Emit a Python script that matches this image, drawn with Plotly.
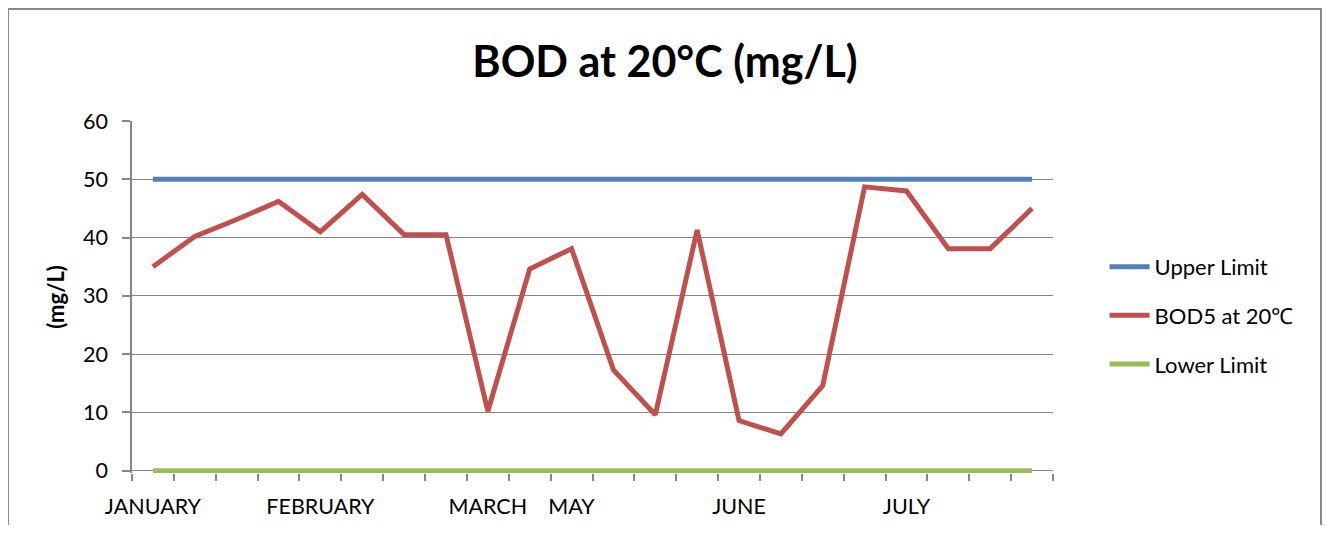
import plotly.graph_objects as go

# ---- data ----
labels = ["JANUARY", "", "", "", "FEBRUARY", "", "", "", "MARCH", "", "MAY",
          "", "", "", "JUNE", "", "", "", "JULY", "", "", ""]
bod5 = [35.0, 40.2, 43.1, 46.2, 41.0, 47.4, 40.5, 40.5, 10.2, 34.6, 38.1,
        17.3, 9.6, 41.3, 8.6, 6.3, 14.6, 48.7, 48.0, 38.1, 38.1, 45.0]
upper = [50, 50, 50, 50, 50, 50, 50, 50, 50, 50, 50,
         50, 50, 50, 50, 50, 50, 50, 50, 50, 50, 50]
lower = [0, 0, 0, 0, 0, 0, 0, 0, 0, 0, 0,
         0, 0, 0, 0, 0, 0, 0, 0, 0, 0, 0]
y_ticks = [0, 10, 20, 30, 40, 50, 60]

x = list(range(len(labels)))
label_pos = [i for i, t in enumerate(labels) if t]
label_txt = [labels[i] for i in label_pos]
boundaries = [i - 0.5 for i in range(len(labels) + 1)]

FONT = "Lato"
GRID = "#868686"

W, H = 1314, 517
ML, MR, MT, MB = 124, 269, 113, 52

fig = go.Figure()
fig.add_trace(go.Scatter(x=x, y=upper, mode="lines", name="Upper Limit",
                         line=dict(color="#4F81BD", width=5), legendgroup="a"))
fig.add_trace(go.Scatter(x=x, y=bod5, mode="lines", name="BOD5 at 20℃",
                         line=dict(color="#C0504D", width=5), legendgroup="b"))
fig.add_trace(go.Scatter(x=x, y=lower, mode="lines", name="Lower Limit",
                         line=dict(color="#9BBB59", width=5), legendgroup="c"))

fig.update_layout(
    width=W, height=H,
    margin=dict(l=ML, r=MR, t=MT, b=MB, autoexpand=False),
    paper_bgcolor="white", plot_bgcolor="white",
    font=dict(family=FONT, size=21, color="black"),
    title=dict(text="<b>BOD at 20°C (mg/L)</b>", x=0.5, xanchor="center",
               y=1 - 54 / H, yanchor="middle",
               font=dict(family=FONT, size=43, color="black")),
    showlegend=True,
    legend=dict(x=1.056, y=0.645, xanchor="left", yanchor="top",
                font=dict(family=FONT, size=22, color="black"),
                tracegroupgap=17, bgcolor="rgba(0,0,0,0)", itemwidth=40),
    xaxis=dict(range=[-0.5, len(labels) - 0.5], tickmode="array",
               tickvals=label_pos, ticktext=label_txt, ticks="",
               ticklabelstandoff=18, showgrid=False, showline=False,
               zeroline=False, tickfont=dict(size=21.5), automargin=False,
               minor=dict(tickmode="array", tickvals=boundaries, ticks="outside",
                          ticklen=7, tickcolor=GRID, tickwidth=1.5, showgrid=False)),
    yaxis=dict(range=[-0.4, 60], tickmode="array", tickvals=y_ticks,
               showgrid=True, gridcolor=GRID, gridwidth=1.3,
               zeroline=True, zerolinecolor=GRID, zerolinewidth=1.3,
               showline=True, linecolor=GRID, linewidth=1.5,
               ticks="outside", ticklen=8, tickcolor=GRID, tickwidth=1.5,
               tickfont=dict(size=21.5), ticklabelstandoff=10, automargin=False,
               title=dict(text="<b>(mg/L)</b>", standoff=12,
                          font=dict(family=FONT, size=22))),
)

# outer chart frame
w_plot = W - ML - MR
h_plot = H - MT - MB
fig.add_shape(type="rect", xref="paper", yref="paper",
              x0=(0 - ML) / w_plot, x1=(W - 1 - ML) / w_plot,
              y0=(H - MB - (H + 20)) / h_plot, y1=(H - MB - 1) / h_plot,
              line=dict(color="#8A8A8A", width=2), layer="below")

fig.write_html("out.html")
